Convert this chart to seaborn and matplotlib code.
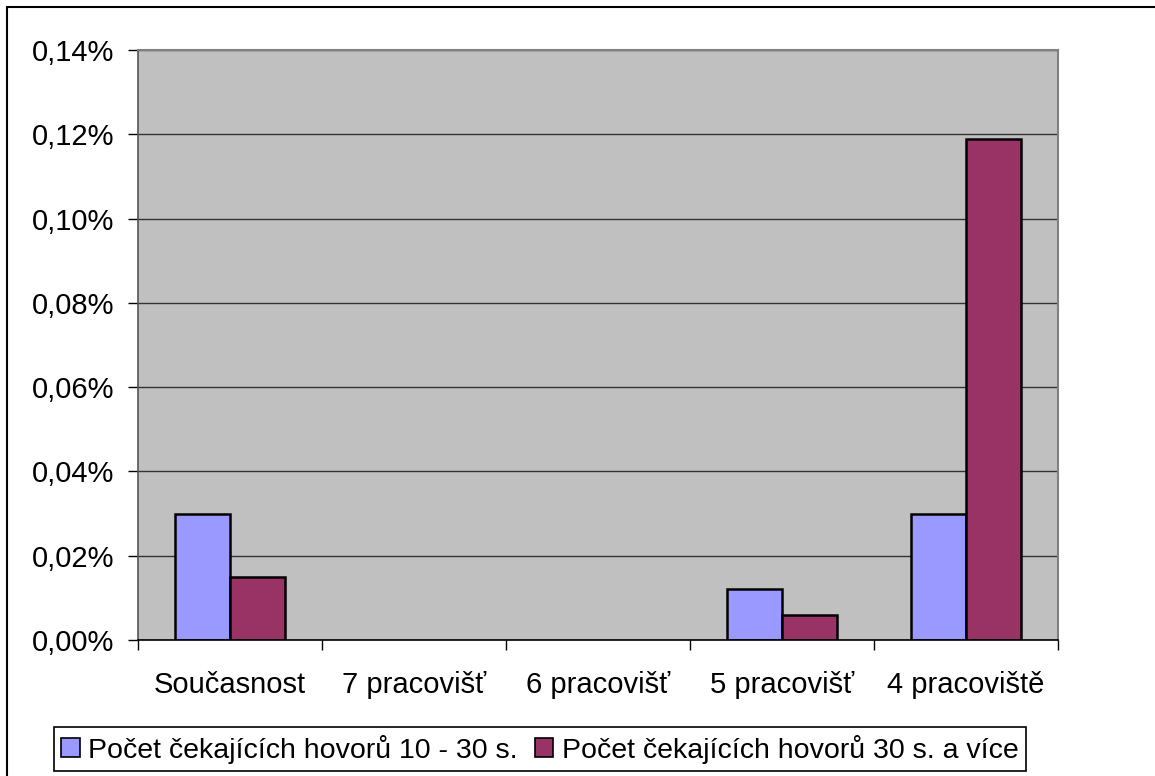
import matplotlib
matplotlib.use("Agg")
import matplotlib.pyplot as plt
from matplotlib.patches import Patch, Rectangle
from matplotlib.ticker import FixedLocator
import pandas as pd
import seaborn as sns

categories = ["Současnost", "7 pracovišť", "6 pracovišť", "5 pracovišť", "4 pracoviště"]
series_names = ["Počet čekajících hovorů 10 - 30 s.", "Počet čekajících hovorů 30 s. a více"]
wait_10_30 = [0.030, 0.0, 0.0, 0.012, 0.030]
wait_30_plus = [0.015, 0.0, 0.0, 0.006, 0.119]
y_ticks = [0.00, 0.02, 0.04, 0.06, 0.08, 0.10, 0.12, 0.14]
colors = ["#9999FF", "#993366"]

df = pd.DataFrame({
    "kategorie": categories * 2,
    "serie": [series_names[0]] * len(categories) + [series_names[1]] * len(categories),
    "hodnota": wait_10_30 + wait_30_plus,
})

sns.set_theme(style="white")
plt.rcParams["font.family"] = ["Liberation Sans", "DejaVu Sans"]
plt.rcParams["text.color"] = "black"

fig = plt.figure(figsize=(11.55, 7.76), dpi=100)
ax = fig.add_axes([138 / 1155, 136 / 776, 920 / 1155, 590 / 776])
ax.set_facecolor("#C0C0C0")

sns.barplot(data=df, x="kategorie", y="hodnota", hue="serie", order=categories,
            hue_order=series_names, palette=colors, width=0.6, gap=0,
            edgecolor="black", linewidth=1.8, saturation=1, ax=ax, legend=False, zorder=3)

# empty bars leave no outline on the axis
for bar in ax.patches:
    if bar.get_height() == 0:
        bar.set_visible(False)

ax.set_xlim(-0.5, len(categories) - 0.5)
ax.set_ylim(0, 0.14)
ax.set_yticks(y_ticks)
ax.set_yticklabels([f"{v:.2f}%".replace(".", ",") for v in y_ticks], fontsize=21)
ax.set_xlabel("")
ax.set_ylabel("")
ax.tick_params(axis="x", which="major", length=0, pad=22, labelsize=21, colors="black")
ax.xaxis.set_minor_locator(FixedLocator([i - 0.5 for i in range(len(categories) + 1)]))
ax.tick_params(axis="x", which="minor", bottom=True, length=7, width=1, color="black")
ax.tick_params(axis="y", left=True, length=7, width=1, pad=10, color="black", labelcolor="black")

ax.yaxis.grid(True, color="#333333", linewidth=1)
ax.set_axisbelow(True)
for side in ["top", "right"]:
    ax.spines[side].set_color("#808080")
    ax.spines[side].set_linewidth(1.5)
ax.spines["left"].set_color("#555555")
ax.spines["left"].set_linewidth(1.2)
ax.spines["bottom"].set_color("black")
ax.spines["bottom"].set_linewidth(1.2)
ax.spines["bottom"].set_zorder(5)

handles = [Patch(facecolor=c, edgecolor="black", linewidth=1.2) for c in colors]
leg = fig.legend(handles, series_names, loc="center", bbox_to_anchor=(540 / 1155, 27 / 776),
                 ncol=2, fontsize=20.5, frameon=True, fancybox=False, framealpha=1,
                 edgecolor="black", handlelength=0.65, handleheight=0.65, handletextpad=0.3,
                 columnspacing=0.6, borderpad=0.25, borderaxespad=0, labelcolor="black")
leg.get_frame().set_linewidth(1.2)

fig.patches.append(Rectangle((7 / 1155, -0.1), 1.2, 1 - 7 / 776 + 0.1,
                             transform=fig.transFigure, fill=False,
                             edgecolor="black", linewidth=1.5))

fig.savefig("out.png", dpi=100)
